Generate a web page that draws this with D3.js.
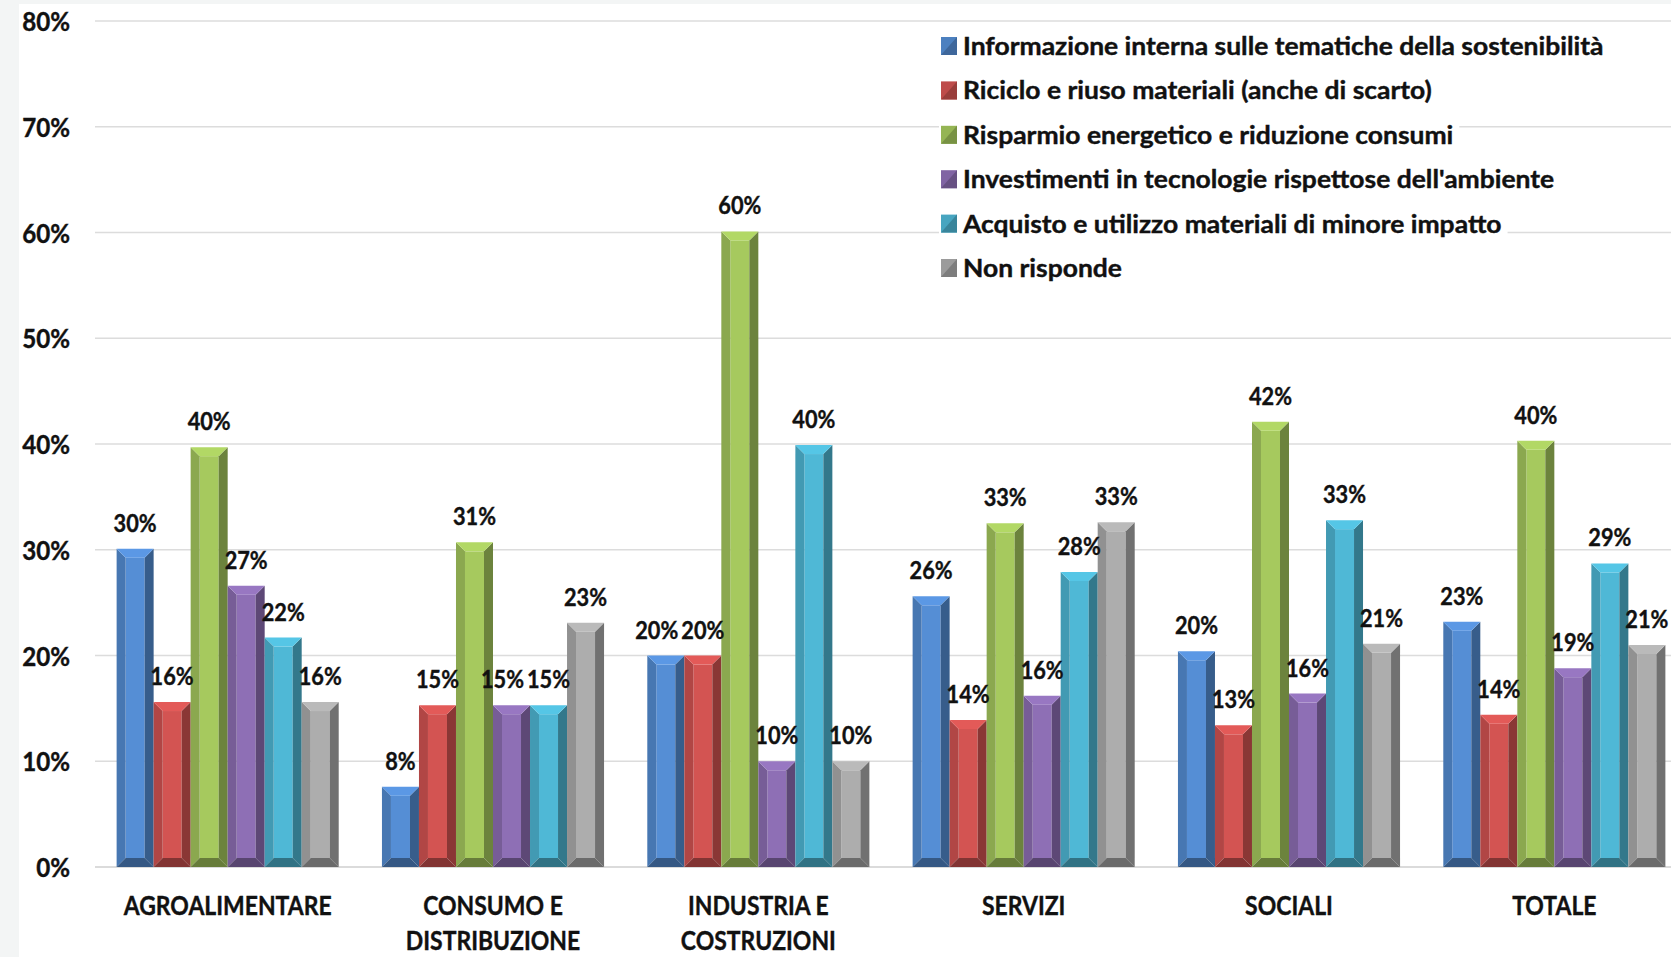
<!DOCTYPE html>
<html>
<head>
    <meta charset="utf-8">
    <style type="text/css">
        body { margin: 0; background: #f3f5f5; }
        svg { display: block; }
        text {
            font-family: Lato, "Open Sans", sans-serif;
            font-weight: 700;
            fill: #111;
            stroke: #111;
            stroke-width: 0.4;
        }
    </style>
</head>
<body>
<svg id="chart"></svg>
<script src="https://d3js.org/d3.v7.min.js"></script>
<script type="text/javascript">
// categories on the x axis (multi-line labels split by \n)
var categories = ["AGROALIMENTARE", "CONSUMO E\nDISTRIBUZIONE", "INDUSTRIA E\nCOSTRUZIONI", "SERVIZI", "SOCIALI", "TOTALE"];

var seriesNames = [
    "Informazione interna sulle tematiche della sostenibilità",
    "Riciclo e riuso materiali (anche di scarto)",
    "Risparmio energetico e riduzione consumi",
    "Investimenti in tecnologie rispettose dell'ambiente",
    "Acquisto e utilizzo materiali di minore impatto",
    "Non risponde"
];

// values in %, one array per series, in category order
var informazione = [30.1, 7.6, 20.0, 25.6, 20.4, 23.2];
var riciclo      = [15.6, 15.3, 20.0, 13.9, 13.4, 14.4];
var risparmio    = [39.7, 30.7, 60.1, 32.5, 42.1, 40.3];
var investimenti = [26.6, 15.3, 10.0, 16.2, 16.4, 18.8];
var acquisto     = [21.7, 15.3, 39.9, 27.9, 32.8, 28.7];
var nonRisponde  = [15.6, 23.1, 10.0, 32.6, 21.1, 21.0];

var yTicks = [0, 10, 20, 30, 40, 50, 60, 70, 80];

var seriesValues = [informazione, riciclo, risparmio, investimenti, acquisto, nonRisponde];
var seriesColors = ["#558ed5", "#d35452", "#a6c95e", "#8e6fb5", "#4fb8d6", "#adadad"];

var W = 1671, H = 957;

var svg = d3.select("#chart").attr("width", W).attr("height", H);

// white chart area (thin grey strip remains on the left/top)
svg.append("rect").attr("x", 19).attr("y", 4).attr("width", W - 19).attr("height", H - 4).attr("fill", "#ffffff");

var y = d3.scaleLinear().domain([0, 80]).range([867, 21]);
var x = d3.scaleBand().domain(categories).range([95, 1687]).paddingInner(0.163).paddingOuter(0.0815);
var xs = d3.scaleBand().domain(d3.range(seriesNames.length)).range([0, x.bandwidth()]);

// the reference font is wider/narrower than Lato depending on the text, so squeeze per use
function squeezedText(parent, tx, ty, str, size, anchor, sx) {
    var g = parent.append("g").attr("transform", "translate(" + tx + "," + ty + ") scale(" + sx + ",1)");
    return g.append("text").attr("x", 0).attr("y", 0)
        .attr("font-size", size).attr("text-anchor", anchor).text(str);
}

// grid
var grid = svg.append("g");
yTicks.forEach(function(t) {
    grid.append("line")
        .attr("x1", 95).attr("x2", W)
        .attr("y1", y(t)).attr("y2", y(t))
        .attr("stroke", t === 0 ? "#cfcfcf" : "#dcdcdc").attr("stroke-width", 1.5);
    squeezedText(svg, 70, y(t) + 10, t + "%", 26, "end", 0.93);
});

// bars with a bevel
var B = 9, LSX = 0.87;
var bars = svg.append("g");
var labels = svg.append("g");
categories.forEach(function(cat, ci) {
    var placed = [];
    seriesValues.forEach(function(vals, si) {
        var v = vals[ci];
        var x0 = x(cat) + xs(si), x1 = x0 + xs.bandwidth();
        var y0 = y(v), y1 = y(0);
        var b = Math.min(B, (y1 - y0) / 2);
        var base = d3.rgb(seriesColors[si]);
        var g = bars.append("g");
        function poly(pts, col) {
            g.append("polygon").attr("points", pts.map(function(p) { return p.join(","); }).join(" ")).attr("fill", col);
        }
        g.append("rect").attr("x", x0 + b).attr("y", y0 + b)
            .attr("width", x1 - x0 - 2 * b).attr("height", Math.max(0, y1 - y0 - 2 * b))
            .attr("fill", base);
        poly([[x0, y0], [x0 + b, y0 + b], [x0 + b, y1 - b], [x0, y1]], base.darker(0.5));
        poly([[x1, y0], [x1 - b, y0 + b], [x1 - b, y1 - b], [x1, y1]], base.darker(1.2));
        poly([[x0, y0], [x1, y0], [x1 - b, y0 + b], [x0 + b, y0 + b]], base.brighter(0.2));
        poly([[x0, y1], [x0 + b, y1 - b], [x1 - b, y1 - b], [x1, y1]], base.darker(1.35));

        var t = squeezedText(labels, (x0 + x1) / 2, y0 - 17, Math.round(v) + "%", 25, "middle", LSX);
        placed.push({ cx: (x0 + x1) / 2, y: y0 - 17, w: t.node().getComputedTextLength() * LSX, g: d3.select(t.node().parentNode) });
    });
    // push a label left when it collides with its right neighbour at the same height
    for (var i = placed.length - 2; i >= 0; i--) {
        var a = placed[i], n = placed[i + 1];
        if (Math.abs(a.y - n.y) < 22) {
            var overlap = (a.cx + a.w / 2) - (n.cx - n.w / 2) + 3;
            if (overlap > 0) {
                a.cx -= overlap;
                a.g.attr("transform", "translate(" + a.cx + "," + a.y + ") scale(" + LSX + ",1)");
            }
        }
    }
});

// category labels
categories.forEach(function(cat) {
    cat.split("\n").forEach(function(line, li) {
        squeezedText(svg, x(cat) + x.bandwidth() / 2, 915 + li * 35, line, 27, "middle", 0.85);
    });
});

// legend
var legend = svg.append("g");
seriesNames.forEach(function(name, i) {
    var by = 55 + i * 44.4;
    var row = legend.append("g");
    var bg = row.append("rect").attr("fill", "#ffffff");
    var col = d3.rgb(seriesColors[i]);
    row.append("rect").attr("x", 941).attr("y", by - 18).attr("width", 16).attr("height", 18).attr("fill", col.darker(0.3));
    row.append("polygon")
        .attr("points", [[941, by], [957, by - 18], [957, by]].map(function(p) { return p.join(","); }).join(" "))
        .attr("fill", col.darker(0.9));
    var sx = 1.08;
    var t = squeezedText(row, 963, by, name, 24.5, "start", sx);
    var w = t.node().getComputedTextLength() * sx;
    bg.attr("x", 939).attr("y", by - 24).attr("width", w + 30).attr("height", 32);
});
</script>
</body>
</html>
